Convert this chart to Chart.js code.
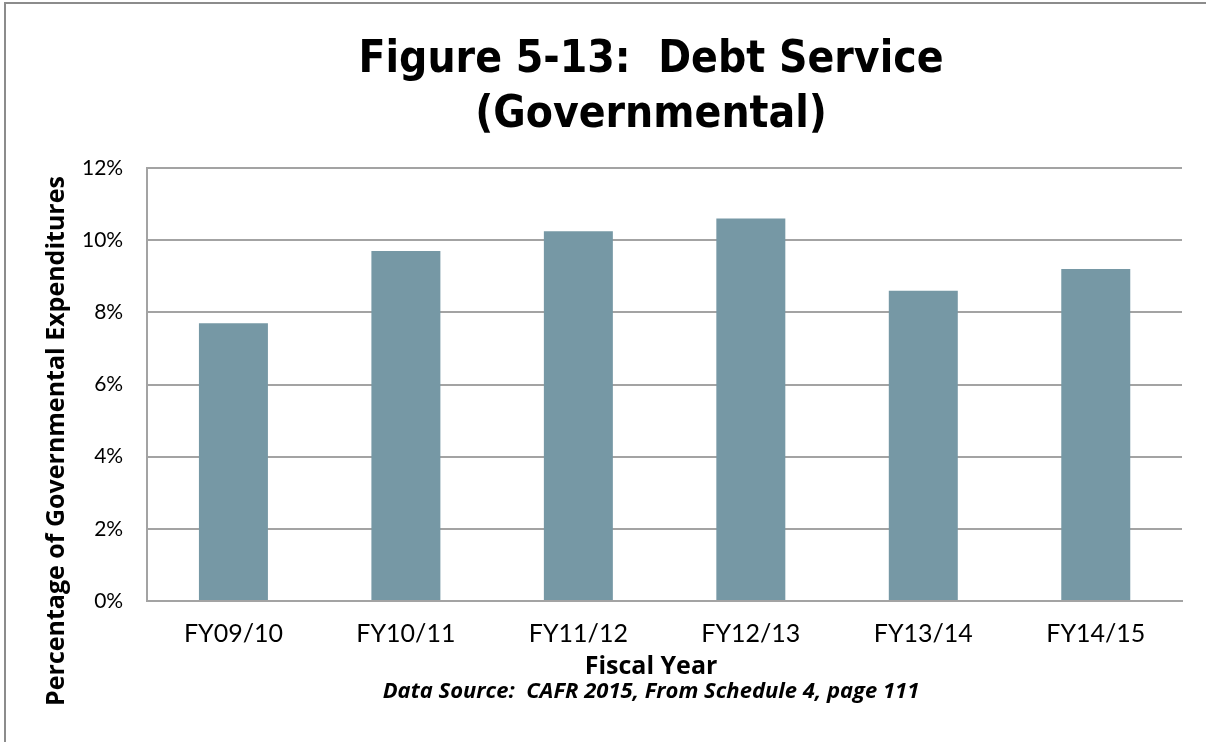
<!DOCTYPE html>
<html>
<head>
<meta charset="utf-8">
<script src="https://cdn.jsdelivr.net/npm/chart.js@4/dist/chart.umd.min.js"></script>
<style>
  html, body { margin: 0; padding: 0; background: #fff; overflow: hidden; }
  #frame {
    position: absolute; left: 4px; top: 2px;
    width: 1300px; height: 760px;
    border-left: 2px solid #8c8c8c; border-top: 2px solid #8c8c8c;
    background: #fff;
  }
  #wrap { position: absolute; left: 0; top: 0; width: 1290px; height: 740px; }
</style>
</head>
<body>
<div id="frame"><div id="wrap"><canvas id="chart"></canvas></div></div>
<script>
const fiscalYears = ['FY09/10', 'FY10/11', 'FY11/12', 'FY12/13', 'FY13/14', 'FY14/15'];
const debtServicePct = [7.7, 9.7, 10.25, 10.6, 8.6, 9.2];
const yTicks = [0, 2, 4, 6, 8, 10, 12];
const titleLines = ['Figure 5-13:  Debt Service', '(Governmental)'];
const xTitle = 'Fiscal Year';
const yTitle = 'Percentage of Governmental Expenditures';
const sourceNote = 'Data Source:  CAFR 2015, From Schedule 4, page 111';

const gridGray = '#a3a3a3';
const barColor = '#7698a5';

// Heading above the plot, axis captions and the source line,
// laid out on the whole canvas rather than the plot area
const captionsPlugin = {
  id: 'captions',
  afterDraw(chart) {
    const ctx = chart.ctx;
    const cx = chart.width / 2;
    ctx.save();
    ctx.fillStyle = '#000';
    ctx.textAlign = 'center';
    ctx.textBaseline = 'alphabetic';
    ctx.font = 'bold 44px "DejaVu Sans Condensed", "DejaVu Sans", sans-serif';
    titleLines.forEach((line, i) => ctx.fillText(line, cx, 68 + i * 55));
    ctx.font = 'bold 25px "Open Sans", sans-serif';
    ctx.fillText(xTitle, cx, 670);
    ctx.font = 'italic bold 22px "Open Sans", sans-serif';
    ctx.fillText(sourceNote, cx, 694);
    ctx.translate(51, 437);
    ctx.rotate(-Math.PI / 2);
    ctx.textBaseline = 'middle';
    ctx.font = 'bold 25px "Open Sans", sans-serif';
    ctx.fillText(yTitle, 0, 0);
    ctx.restore();
  }
};

new Chart(document.getElementById('chart'), {
  type: 'bar',
  data: {
    labels: fiscalYears,
    datasets: [{
      data: debtServicePct,
      backgroundColor: barColor,
      borderWidth: 0,
      barPercentage: 0.4,
      categoryPercentage: 1.0
    }]
  },
  plugins: [captionsPlugin],
  options: {
    responsive: true,
    maintainAspectRatio: false,
    animation: false,
    layout: { padding: { left: 52, right: 114, top: 164, bottom: 77 } },
    plugins: {
      legend: { display: false },
      tooltip: { enabled: false },
      title: { display: false }
    },
    scales: {
      x: {
        grid: { display: false, drawTicks: false },
        border: { display: true, color: gridGray, width: 2 },
        ticks: {
          color: '#000',
          padding: 18,
          font: { family: 'Lato', size: 25 }
        }
      },
      y: {
        min: 0,
        max: 12,
        afterBuildTicks: (axis) => { axis.ticks = yTicks.map(v => ({ value: v })); },
        grid: { color: gridGray, lineWidth: 2, drawTicks: false },
        border: { display: true, color: gridGray, width: 2 },
        ticks: {
          color: '#000',
          padding: 24,
          font: { family: 'Lato', size: 21 },
          callback: (v) => v + '%'
        }
      }
    }
  }
});
</script>
</body>
</html>
